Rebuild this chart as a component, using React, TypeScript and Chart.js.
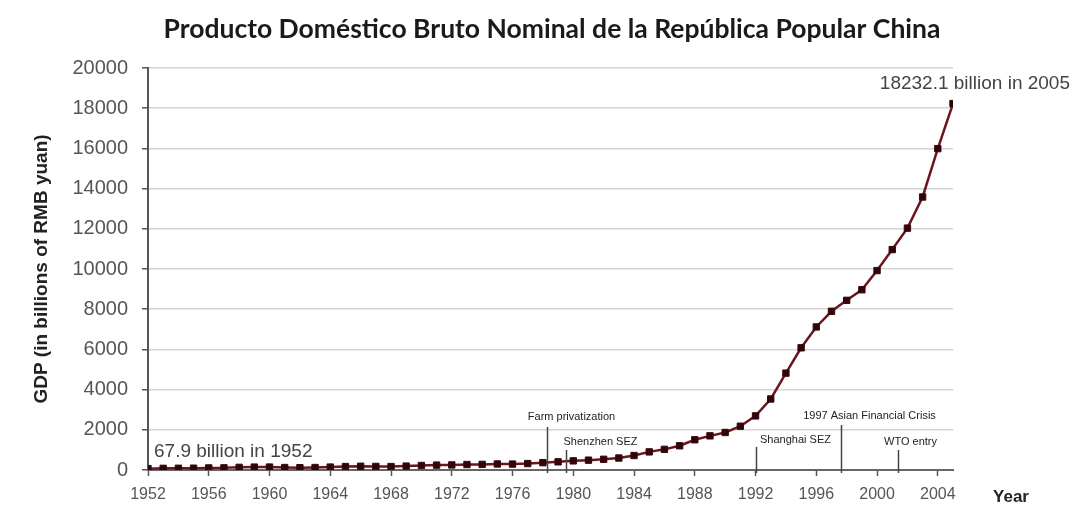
import React, { useEffect, useRef } from 'react';
import { Chart, registerables } from 'chart.js';

Chart.register(...registerables);

// ---- Data ----
const years: number[] = [
  1952, 1953, 1954, 1955, 1956, 1957, 1958, 1959, 1960, 1961,
  1962, 1963, 1964, 1965, 1966, 1967, 1968, 1969, 1970, 1971,
  1972, 1973, 1974, 1975, 1976, 1977, 1978, 1979, 1980, 1981,
  1982, 1983, 1984, 1985, 1986, 1987, 1988, 1989, 1990, 1991,
  1992, 1993, 1994, 1995, 1996, 1997, 1998, 1999, 2000, 2001,
  2002, 2003, 2004, 2005,
];
const gdp: number[] = [
  67.9, 82.4, 85.9, 91.0, 102.8, 106.8, 130.7, 143.9, 145.7, 122.0,
  114.9, 123.3, 145.4, 171.6, 186.8, 177.4, 172.3, 193.8, 225.3, 242.6,
  251.8, 272.1, 279.0, 299.7, 294.4, 320.2, 364.5, 406.3, 454.6, 489.2,
  532.3, 596.3, 720.8, 901.6, 1027.5, 1205.9, 1504.3, 1699.2, 1866.8, 2178.2,
  2692.4, 3533.4, 4819.8, 6079.4, 7117.7, 7897.3, 8440.2, 8967.7, 9921.5, 10965.5,
  12033.3, 13582.3, 15987.8, 18232.1,
];
const xTickStep = 4;
const yTickStep = 2000;
const yMax = 20000;

const eventYears: number[] = [1978.3, 1979.5, 1992, 1997.6, 2001.4];
const eventLabels: string[] = [
  'Farm privatization',
  'Shenzhen SEZ',
  'Shanghai SEZ',
  '1997 Asian Financial Crisis',
  'WTO entry',
];

const titleText = 'Producto Doméstico Bruto Nominal de la República Popular China';
const yTitle = 'GDP (in billions of RMB yuan)';
const xTitle = 'Year';

// ---- Styles (pixel offsets for annotation drawing) ----
const eventLineHeights = [43, 20, 23, 45, 20];
const eventTextDx = [24, 34, 39, 28, 12];
const eventTextDy = [53, 28, 30, 54, 28];

const SANS = 'Arial, "Liberation Sans", sans-serif';

const overlayPlugin = {
  id: 'overlay',
  afterDraw(chart: any) {
    const { ctx, scales } = chart;
    const xs = scales.x;
    const ys = scales.y;
    const base = ys.getPixelForValue(0);
    ctx.save();
    // title
    ctx.fillStyle = '#1a1a1a';
    ctx.font = 'bold 26.5px Lato, "Noto Sans", sans-serif';
    ctx.textAlign = 'center';
    ctx.textBaseline = 'middle';
    ctx.fillText(titleText, 552, 29);
    // events
    eventYears.forEach((yr, i) => {
      const px = Math.round(xs.getPixelForValue(yr)) + 0.5;
      ctx.strokeStyle = '#444';
      ctx.lineWidth = 1.5;
      ctx.beginPath();
      ctx.moveTo(px, base + 3);
      ctx.lineTo(px, base - eventLineHeights[i]);
      ctx.stroke();
      ctx.fillStyle = '#222';
      ctx.font = `11px ${SANS}`;
      ctx.textAlign = 'center';
      ctx.textBaseline = 'middle';
      ctx.fillText(eventLabels[i], px + eventTextDx[i], base - eventTextDy[i]);
    });
    // data labels
    ctx.fillStyle = '#444';
    ctx.font = `19px ${SANS}`;
    ctx.textBaseline = 'middle';
    const x0 = xs.getPixelForValue(years[0]);
    const y0 = ys.getPixelForValue(gdp[0]);
    ctx.textAlign = 'left';
    ctx.fillText(`${gdp[0]} billion in ${years[0]}`, x0 + 6, y0 - 17);
    const n = years.length - 1;
    const x1 = xs.getPixelForValue(years[n]);
    const y1 = ys.getPixelForValue(gdp[n]);
    ctx.textAlign = 'right';
    ctx.fillText(`${gdp[n]} billion in ${years[n]}`, x1 + 117, y1 - 20);
    // x title
    ctx.fillStyle = '#222';
    ctx.font = `bold 17px ${SANS}`;
    ctx.textAlign = 'center';
    ctx.fillText(xTitle, 1011, 497);
    ctx.restore();
  },
};

export default function App() {
  const ref = useRef<HTMLCanvasElement | null>(null);

  useEffect(() => {
    document.body.style.margin = '0';
    const canvas = ref.current;
    if (!canvas) return;
    const chart = new Chart(canvas, {
      type: 'line',
      data: {
        datasets: [
          {
            data: years.map((y, i) => ({ x: y, y: gdp[i] })),
            borderColor: '#6a1620',
            borderWidth: 2.5,
            pointStyle: 'rect',
            pointRadius: 4.5,
            pointBackgroundColor: '#2e0508',
            pointBorderColor: '#3a070c',
            pointBorderWidth: 1,
            tension: 0,
          },
        ],
      },
      options: {
        responsive: false,
        animation: false,
        layout: { padding: { left: 0, right: 121, top: 68, bottom: 0 } },
        plugins: {
          legend: { display: false },
          tooltip: { enabled: false },
          title: { display: false },
        },
        scales: {
          x: {
            type: 'linear',
            min: years[0],
            max: years[years.length - 1],
            afterBuildTicks: (scale: any) => {
              const t: any[] = [];
              for (let v = years[0]; v <= years[years.length - 1]; v += xTickStep) t.push({ value: v });
              scale.ticks = t;
            },
            afterFit: (scale: any) => {
              scale.height = 52;
            },
            ticks: {
              stepSize: xTickStep,
              autoSkip: false,
              maxRotation: 0,
              color: '#555',
              padding: 9,
              font: { family: SANS, size: 16 },
              callback: (v: any) => String(v),
            },
            grid: {
              drawOnChartArea: false,
              drawTicks: true,
              tickLength: 6,
              tickColor: '#555',
              tickWidth: 1.5,
            },
            border: { display: true, color: '#666', width: 2 },
          },
          y: {
            min: 0,
            max: yMax,
            afterFit: (scale: any) => {
              scale.width = 148;
            },
            ticks: {
              stepSize: yTickStep,
              color: '#555',
              padding: 14,
              font: { family: SANS, size: 20 },
              callback: (v: any) => String(v),
            },
            grid: {
              color: '#d4d4d4',
              lineWidth: 1.5,
              tickLength: 6,
              tickColor: '#555',
              tickWidth: 1.5,
            },
            border: { display: true, color: '#555', width: 2 },
            title: {
              display: true,
              text: yTitle,
              color: '#222',
              font: { family: SANS, size: 19, weight: 'bold' },
              padding: { top: 30, bottom: 0 },
            },
          },
        },
      },
      plugins: [overlayPlugin],
    });
    return () => chart.destroy();
  }, []);

  return (
    <div style={{ width: 1074, height: 522, background: '#fff' }}>
      <canvas ref={ref} width={1074} height={522} />
    </div>
  );
}
